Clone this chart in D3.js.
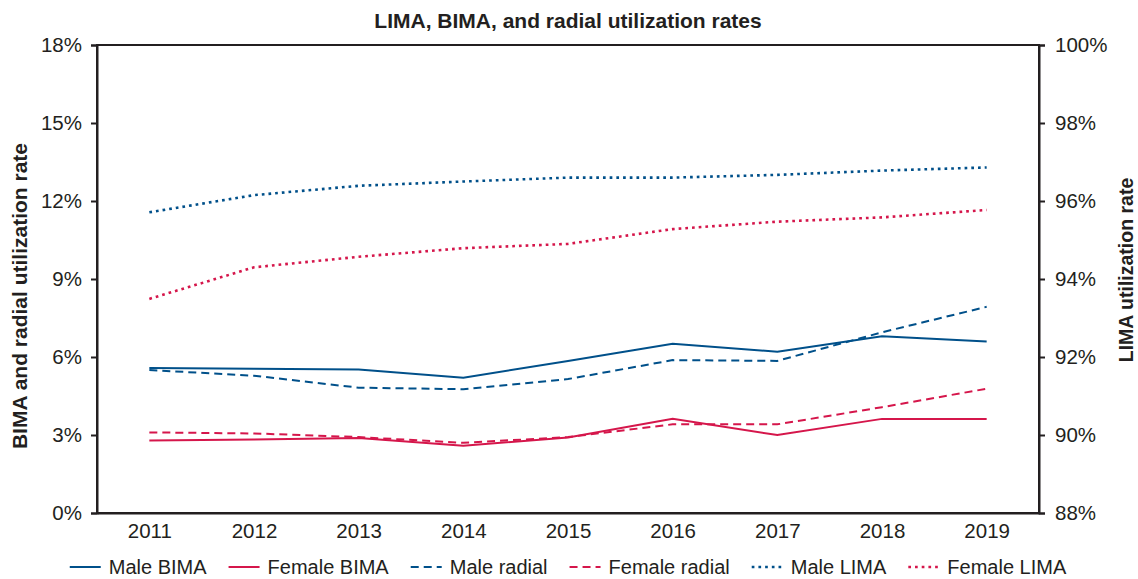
<!DOCTYPE html>
<html>
<head>
<meta charset="utf-8">
<script src="https://cdn.jsdelivr.net/npm/d3@7"></script>
<style>
  body { margin: 0; background: #fff; }
  text { font-family: "Liberation Sans", Arial, sans-serif; fill: #231f20; }
</style>
</head>
<body>
<div id="chart"></div>
<script>
// years on the x axis
let years = [2011, 2012, 2013, 2014, 2015, 2016, 2017, 2018, 2019];

// BIMA and radial rates (left axis, %)
let maleBIMA     = [5.58, 5.55, 5.52, 5.2, 5.85, 6.51, 6.2, 6.8, 6.6];
let femaleBIMA   = [2.79, 2.83, 2.88, 2.59, 2.9, 3.62, 3.0, 3.62, 3.62];
let maleRadial   = [5.5, 5.28, 4.82, 4.76, 5.15, 5.88, 5.85, 6.95, 7.93];
let femaleRadial = [3.1, 3.06, 2.92, 2.7, 2.92, 3.41, 3.41, 4.07, 4.78];

// LIMA rates (right axis, %)
let maleLIMA   = [95.71, 96.15, 96.39, 96.5, 96.6, 96.6, 96.67, 96.78, 96.86];
let femaleLIMA = [93.49, 94.3, 94.57, 94.79, 94.9, 95.28, 95.47, 95.58, 95.77];

let leftTicks = [0, 3, 6, 9, 12, 15, 18];
let rightTicks = [88, 90, 92, 94, 96, 98, 100];

let blue = "#00508a", red = "#d5164b";

let width = 1138, height = 579;
let margin = {top: 45, right: 99, bottom: 66, left: 97};

let svg = d3.select("#chart").append("svg")
    .attr("width", width)
    .attr("height", height);

let x = d3.scalePoint()
    .domain(years)
    .range([margin.left, width - margin.right])
    .padding(0.5);

let yLeft = d3.scaleLinear()
    .domain([0, 18])
    .range([height - margin.bottom, margin.top]);

let yRight = d3.scaleLinear()
    .domain([88, 100])
    .range([height - margin.bottom, margin.top]);

let series = [
    {name: "Male BIMA", values: maleBIMA, color: blue, dash: null, w: 2, y: yLeft},
    {name: "Female BIMA", values: femaleBIMA, color: red, dash: null, w: 2, y: yLeft},
    {name: "Male radial", values: maleRadial, color: blue, dash: "8,5", w: 2, y: yLeft},
    {name: "Female radial", values: femaleRadial, color: red, dash: "8,5", w: 2, y: yLeft},
    {name: "Male LIMA", values: maleLIMA, color: blue, dash: "2.7,4", w: 2.6, y: yRight},
    {name: "Female LIMA", values: femaleLIMA, color: red, dash: "2.7,4", w: 2.6, y: yRight}
];

// title
svg.append("text")
    .attr("x", 568)
    .attr("y", 28)
    .attr("text-anchor", "middle")
    .style("font-size", "21px")
    .style("font-weight", "bold")
    .text("LIMA, BIMA, and radial utilization rates");

// lines
let line = s => d3.line()
    .x((d, i) => x(years[i]))
    .y(d => s.y(d));

series.forEach(s => {
    svg.append("path")
        .datum(s.values)
        .attr("fill", "none")
        .attr("stroke", s.color)
        .attr("stroke-width", s.w)
        .attr("stroke-dasharray", s.dash)
        .attr("d", line(s));
});

// frame
svg.append("rect")
    .attr("x", margin.left)
    .attr("y", margin.top)
    .attr("width", width - margin.left - margin.right)
    .attr("height", height - margin.top - margin.bottom)
    .attr("fill", "none")
    .attr("stroke", "#231f20")
    .attr("stroke-width", 2);

// left axis
let leftAxis = svg.append("g")
    .attr("transform", "translate(" + margin.left + ",0)")
    .call(d3.axisLeft(yLeft).tickValues(leftTicks).tickSize(6).tickPadding(9).tickFormat(d => d + "%"));

// right axis
let rightAxis = svg.append("g")
    .attr("transform", "translate(" + (width - margin.right) + ",0)")
    .call(d3.axisRight(yRight).tickValues(rightTicks).tickSize(6).tickPadding(10).tickFormat(d => d + "%"));

// bottom axis
let bottomAxis = svg.append("g")
    .attr("transform", "translate(0," + (height - margin.bottom) + ")")
    .call(d3.axisBottom(x).tickSize(0).tickPadding(10));

[leftAxis, rightAxis, bottomAxis].forEach(a => {
    a.select(".domain").attr("stroke", "#231f20").attr("stroke-width", 2);
    a.selectAll(".tick line").attr("stroke", "#231f20").attr("stroke-width", 2);
    a.selectAll(".tick text")
        .style("font-size", "20.5px")
        .style("font-family", "Liberation Sans, Arial, sans-serif")
        .attr("fill", "#231f20");
});

// axis titles
svg.append("text")
    .attr("transform", "translate(27,296) rotate(-90)")
    .attr("text-anchor", "middle")
    .style("font-size", "21px")
    .style("font-weight", "bold")
    .text("BIMA and radial utilization rate");

svg.append("text")
    .attr("transform", "translate(1133,270) rotate(-90)")
    .attr("text-anchor", "middle")
    .style("font-size", "19.5px")
    .style("font-weight", "bold")
    .text("LIMA utilization rate");

// legend
let legend = svg.append("g");
let lx = 0;
series.forEach(s => {
    let item = legend.append("g").attr("transform", "translate(" + lx + ",0)");
    item.append("line")
        .attr("x1", 0).attr("x2", 31)
        .attr("y1", -7).attr("y2", -7)
        .attr("stroke", s.color)
        .attr("stroke-width", s.w)
        .attr("stroke-dasharray", s.dash);
    let t = item.append("text")
        .attr("x", 39)
        .style("font-size", "20px")
        .text(s.name);
    lx += 39 + t.node().getComputedTextLength() + 22;
});
lx -= 22;
legend.attr("transform", "translate(" + ((width - lx) / 2 - 1) + ",574)");
</script>
</body>
</html>
